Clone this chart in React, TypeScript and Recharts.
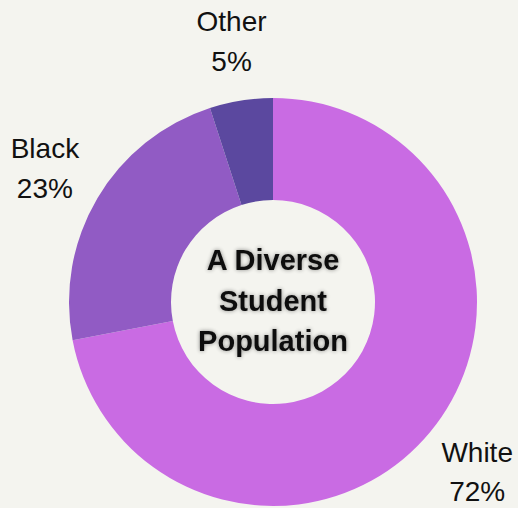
import React from "react";
import { PieChart, Pie, Cell } from "recharts";

const categories = ["White", "Black", "Other"];
const values = [72, 23, 5];
const colors = ["#c96be3", "#915bc4", "#5b489f"];
const centerLines = ["A Diverse", "Student", "Population"];

const data = categories.map((name, i) => ({ name, value: values[i] }));

const RAD = Math.PI / 180;
const FONT = "'Liberation Sans', Arial, sans-serif";

const renderLabel = (props: any) => {
  const { cx, cy, midAngle, outerRadius, name, value, index } = props;
  const r = outerRadius + 61;
  const x = cx + r * Math.cos(-midAngle * RAD);
  const y = cy + r * Math.sin(-midAngle * RAD);
  return (
    <g>
      <text x={x} y={y - 9} textAnchor="middle" fontSize={28} fontFamily={FONT} fill="#111">
        {name}
      </text>
      <text x={x} y={y + 30.5} textAnchor="middle" fontSize={28} fontFamily={FONT} fill="#111">
        {value}%
      </text>
      {index === 0 && (
        <g filter="url(#glow)">
          {centerLines.map((t, i) => (
            <text
              key={t}
              x={cx}
              y={cy - 32 + i * 40.5}
              textAnchor="middle"
              fontSize={29}
              fontWeight="bold"
              fontFamily={FONT}
              fill="#111"
            >
              {t}
            </text>
          ))}
        </g>
      )}
    </g>
  );
};

export default function App() {
  return (
    <div style={{ position: "fixed", left: 0, top: 0, width: 518, height: 508, background: "#f4f4ef" }}>
      <PieChart width={518} height={508} margin={{ top: 0, right: 0, bottom: 0, left: 0 }}>
        <defs>
          <filter id="glow" x="-20%" y="-50%" width="140%" height="200%">
            <feGaussianBlur in="SourceAlpha" stdDeviation="2" result="blur" />
            <feComponentTransfer in="blur" result="shadow">
              <feFuncA type="linear" slope="0.45" />
            </feComponentTransfer>
            <feMerge>
              <feMergeNode in="shadow" />
              <feMergeNode in="SourceGraphic" />
            </feMerge>
          </filter>
        </defs>
        <Pie
          data={data}
          dataKey="value"
          nameKey="name"
          cx={273}
          cy={302}
          innerRadius={102}
          outerRadius={204}
          startAngle={90}
          endAngle={-270}
          stroke="none"
          labelLine={false}
          label={renderLabel}
          isAnimationActive={false}
        >
          {data.map((d, i) => (
            <Cell key={d.name} fill={colors[i]} />
          ))}
        </Pie>
      </PieChart>
    </div>
  );
}
